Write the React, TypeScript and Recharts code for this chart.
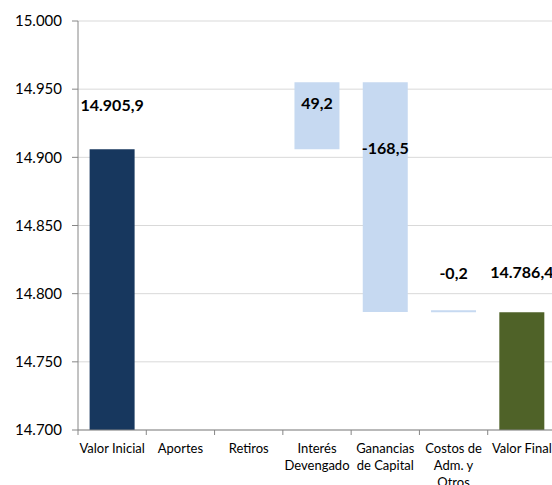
import { BarChart, Bar, XAxis, YAxis, CartesianGrid, Cell, LabelList } from "recharts";

const categories = [
  "Valor Inicial",
  "Aportes",
  "Retiros",
  "Interés\nDevengado",
  "Ganancias\nde Capital",
  "Costos de\nAdm. y\nOtros",
  "Valor Final",
];
const changes = [14905.9, 0, 0, 49.2, -168.5, -0.2, 14786.4];
const isTotal = [true, false, false, false, false, false, true];
const yTicks = [14700, 14750, 14800, 14850, 14900, 14950, 15000];

const CHART_W = 556;
const CHART_H = 485;
const Y_AXIS_W = 78;
const bandWidth = (CHART_W - Y_AXIS_W) / categories.length;
const barColors = ["#17375E", "#C6D9F1", "#C6D9F1", "#C6D9F1", "#C6D9F1", "#C6D9F1", "#4F6228"];
// label distance from the bar top, Excel put them in odd spots
const labelDy = [-45, 0, 0, 20, 65, -38, -41];
const FONT = "Lato, 'Open Sans', sans-serif";

// running totals -> [low, high] for each floating bar
let running = 0;
const data = categories.map((name, i) => {
  const v = changes[i];
  let range: [number, number];
  if (isTotal[i]) {
    running = v;
    range = [yTicks[0], v];
  } else {
    const next = running + v;
    range = [Math.min(running, next), Math.max(running, next)];
    running = next;
  }
  return { name, range, value: v };
});

function thousands(n: number, decimals: number) {
  const neg = n < 0;
  const fixed = Math.abs(n).toFixed(decimals);
  const [int, dec] = fixed.split(".");
  const grouped = int.replace(/\B(?=(\d{3})+(?!\d))/g, ".");
  return (neg ? "-" : "") + grouped + (dec ? "," + dec : "");
}

function CategoryTick({ x, y, payload }: any) {
  const lines = String(payload.value).split("\n");
  const left = x - bandWidth / 2;
  return (
    <g>
      <line x1={left} x2={left} y1={y} y2={y + 5} stroke="#868686" />
      <text x={x} y={y + 23} textAnchor="middle" fontSize={13} fontFamily={FONT} fill="#000">
        {lines.map((l, i) => (
          <tspan key={i} x={x} dy={i === 0 ? 0 : 17}>
            {l}
          </tspan>
        ))}
      </text>
    </g>
  );
}

function ValueLabel({ x, y, width, height, value }: any) {
  if (!value) return null;
  const idx = changes.indexOf(value);
  const top = Math.min(y, y + (height || 0));
  return (
    <text
      x={x + width / 2}
      y={top + labelDy[idx]}
      textAnchor="middle"
      dominantBaseline="central"
      fontSize={16}
      fontWeight="bold"
      fontFamily={FONT}
      fill="#000"
    >
      {thousands(value, 1)}
    </text>
  );
}

export default function App() {
  return (
    <div
      style={{
        position: "fixed",
        left: 0,
        top: 0,
        width: 552,
        height: 485,
        overflow: "hidden",
        background: "#fff",
      }}
    >
      <BarChart
        width={CHART_W}
        height={CHART_H}
        data={data}
        margin={{ top: 21, right: 0, bottom: 0, left: 0 }}
        barCategoryGap="17%"
      >
        <CartesianGrid vertical={false} stroke="#D9D9D9" />
        <XAxis
          dataKey="name"
          interval={0}
          height={55}
          tickSize={0}
          tickMargin={0}
          tickLine={false}
          axisLine={{ stroke: "#868686" }}
          tick={<CategoryTick />}
        />
        <YAxis
          width={Y_AXIS_W}
          domain={[yTicks[0], yTicks[yTicks.length - 1]]}
          ticks={yTicks}
          tickFormatter={(v: number) => thousands(v, 0)}
          tickSize={6}
          tickMargin={10}
          axisLine={{ stroke: "#868686" }}
          tickLine={{ stroke: "#868686" }}
          tick={{ fontSize: 15, fontFamily: FONT, fill: "#000" }}
        />
        <Bar
          dataKey="range"
          isAnimationActive={false}
          minPointSize={(_v: any, i: number) => (i === 5 ? 2 : 0)}
        >
          {data.map((d, i) => (
            <Cell key={d.name} fill={barColors[i]} />
          ))}
          <LabelList dataKey="value" content={<ValueLabel />} />
        </Bar>
      </BarChart>
    </div>
  );
}
